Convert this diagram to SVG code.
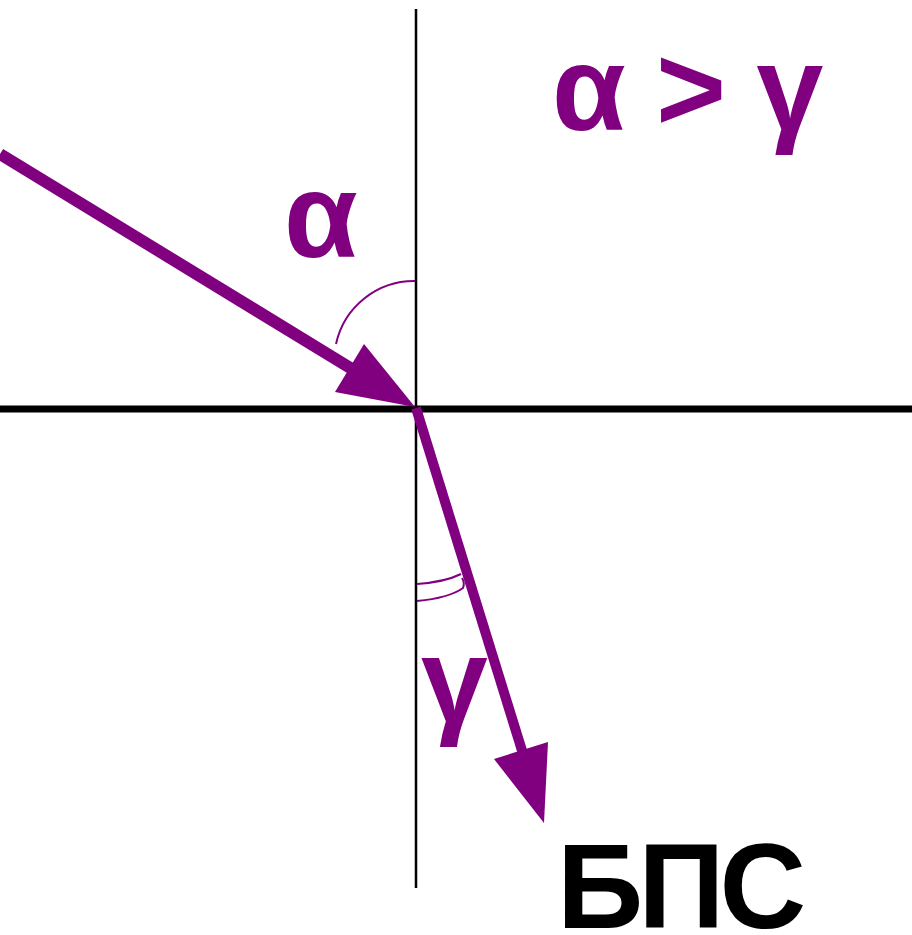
<svg xmlns="http://www.w3.org/2000/svg" width="912" height="935" viewBox="0 0 912 935">
<style>
.axis{stroke:#000;fill:none}
.ray{stroke:#800080;fill:none}
.head{fill:#800080;stroke:none}
.arc{stroke:#800080;fill:none;stroke-width:2}
.lbl{font-family:"Liberation Sans",Arial,sans-serif;font-weight:bold;font-size:120px}
.p{fill:#800080}
</style>
<rect width="912" height="935" fill="#fff"/>
<g id="axes">
<line class="axis" x1="416" y1="9" x2="416" y2="888" stroke-width="2.5"/>
<line class="axis" x1="0" y1="409" x2="912" y2="409" stroke-width="7"/>
</g>
<g id="connectors">
<g id="incident-ray">
<line class="ray" x1="0" y1="154" x2="370" y2="380" stroke-width="12"/>
<polygon class="head" points="415,407 335,392 364,344"/>
</g>
<g id="refracted-ray">
<line class="ray" x1="416" y1="408" x2="528" y2="770" stroke-width="10"/>
<polygon class="head" points="544,823 494,759 548,742"/>
</g>
</g>
<g id="angle-alpha">
<path class="arc" d="M336,344 A80,80 0 0 1 415,281"/>
<text class="lbl p" x="284" y="257">α</text>
</g>
<g id="angle-gamma">
<path class="arc" d="M417,584 Q445,582 461,574"/>
<path class="arc" d="M417,601 Q449,598 463,588 Q465,583 462,578"/>
<text class="lbl p" x="421" y="722">γ</text>
</g>
<g id="relation">
<text class="lbl p" x="552" y="130" letter-spacing="-1.5">α &gt; γ</text>
</g>
<g id="label-bps">
<text class="lbl" x="557" y="928" fill="#000" font-size="118" letter-spacing="-5">БПС</text>
</g>
</svg>
